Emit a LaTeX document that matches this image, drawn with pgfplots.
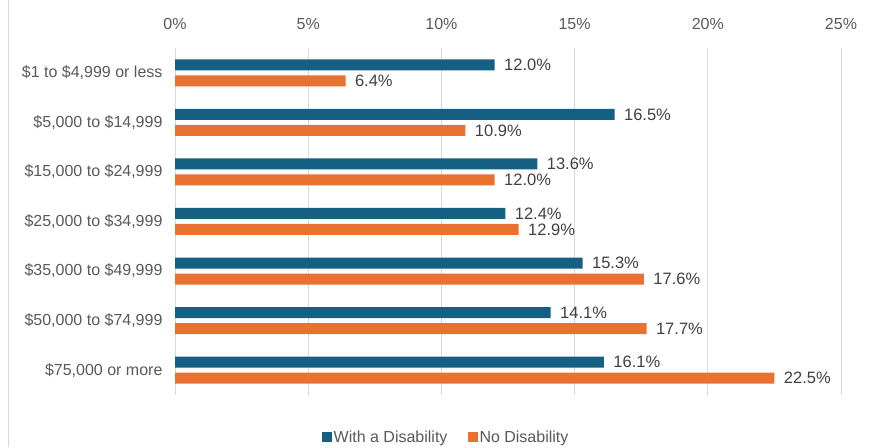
\documentclass[border=0pt]{standalone}
\usepackage{pgfplots}
\pgfplotsset{compat=1.18}
\usepackage{fontspec}
\setmainfont{Liberation Sans}
\definecolor{cblue}{HTML}{156082}
\definecolor{corange}{HTML}{E97132}
\definecolor{tickgray}{HTML}{595959}
\definecolor{labgray}{HTML}{404040}
\definecolor{gridgray}{HTML}{D9D9D9}
\begin{document}
\begin{tikzpicture}[x=1pt,y=1pt]
\useasboundingbox (0,0) rectangle (874,447);
\draw[gridgray, line width=1pt] (8,0) -- (8,447);
\begin{axis}[
  at={(175pt,52pt)}, anchor=south west,
  width=666pt, height=347pt, scale only axis,
  xbar, xmin=0, xmax=25, ymin=-0.5, ymax=6.5,
  xtick={0,5,...,25},
  xticklabel={\pgfmathprintnumber[assume math mode=true]{\tick}\%},
  xticklabel pos=upper,
  xticklabel style={font=\fontsize{16}{18}\selectfont, text=tickgray, yshift=15pt},
  ytick={0,...,6},
  yticklabels={{\$75,000 or more},{\$50,000 to \$74,999},{\$35,000 to \$49,999},{\$25,000 to \$34,999},{\$15,000 to \$24,999},{\$5,000 to \$14,999},{\$1 to \$4,999 or less}},
  yticklabel style={font=\fontsize{16}{18}\selectfont, text=tickgray, xshift=-9pt},
  major tick length=0pt,
  axis line style={draw=none},
  xmajorgrids, grid style={gridgray, line width=1pt},
  bar width=11pt,
  nodes near coords={\pgfmathprintnumber[fixed,fixed zerofill,precision=1,assume math mode=true]{\pgfplotspointmeta}\%},
  nodes near coords style={font=\fontsize{16.5}{18}\selectfont, text=labgray, xshift=6pt},
  legend style={at={(0.407,-0.121)}, anchor=center, draw=none, legend columns=2,
    font=\fontsize{16}{18}\selectfont, text=tickgray,
    /tikz/every even column/.append style={column sep=18pt}},
  legend image code/.code={\fill[#1] (0pt,-5pt) rectangle (10pt,5pt);},
]
\addplot[fill=cblue, draw=none, bar shift=8pt] coordinates {
 (12.0,6) (16.5,5) (13.6,4) (12.4,3) (15.3,2) (14.1,1) (16.1,0)};
\addplot[fill=corange, draw=none, bar shift=-8pt] coordinates {
 (6.4,6) (10.9,5) (12.0,4) (12.9,3) (17.6,2) (17.7,1) (22.5,0)};
\legend{With a Disability, No Disability}
\end{axis}
\end{tikzpicture}
\end{document}
